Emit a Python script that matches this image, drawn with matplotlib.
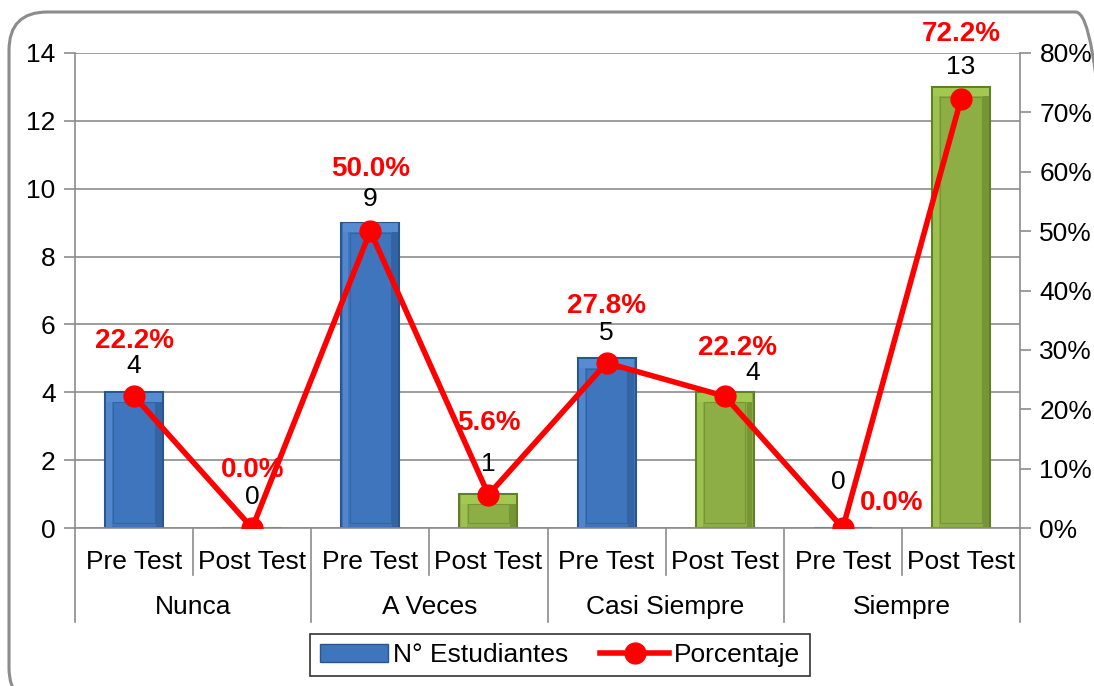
import matplotlib
matplotlib.use("Agg")
import matplotlib.pyplot as plt
from matplotlib.patches import FancyBboxPatch, Rectangle
from matplotlib.lines import Line2D
import matplotlib.transforms as mtransforms

plt.rcParams['font.family'] = ['Liberation Sans', 'DejaVu Sans']

groups = ["Nunca", "A Veces", "Casi Siempre", "Siempre"]
subgroups = ["Pre Test", "Post Test"]
estudiantes = [4, 0, 9, 1, 5, 4, 0, 13]
porcentaje = [22.2, 0.0, 50.0, 5.6, 27.8, 22.2, 0.0, 72.2]
left_ticks = [0, 2, 4, 6, 8, 10, 12, 14]
right_ticks = [0, 10, 20, 30, 40, 50, 60, 70, 80]

blue = "#3e75bc"
blue_edge = "#2a5690"
blue_light = "#5f93d8"
green = "#8cae44"
green_edge = "#617f27"
green_light = "#a8cf55"
grid = "#8c8c8c"
FS = 19

W, H = 1094, 686
fig = plt.figure(figsize=(W / 100, H / 100), dpi=100)

# rounded outer border
border = FancyBboxPatch((9 / W, -20 / H), (W + 20) / W - 9 / W, (H - 12 + 20) / H,
                        boxstyle="round,pad=0,rounding_size=0.035",
                        transform=fig.transFigure, fill=False,
                        edgecolor="#8c8c8c", linewidth=2.2, mutation_aspect=W / H)
fig.patches.append(border)

ax = fig.add_axes([75 / W, 1 - 528 / H, (1020 - 75) / W, (528 - 53) / H])
n = len(estudiantes)
x = list(range(n))
ax.set_xlim(-0.5, n - 0.5)
ax.set_ylim(0, 14)
ax.set_yticks(left_ticks)
ax.tick_params(axis='y', labelsize=FS, color=grid, length=8, width=1.2, pad=6)
ax.yaxis.grid(True, color=grid, linewidth=1.2)
ax.set_axisbelow(True)
for s in ["top", "right", "bottom"]:
    ax.spines[s].set_visible(False)
ax.spines["left"].set_color(grid)
ax.spines["left"].set_linewidth(1.2)

colors = [blue if i % 2 == 0 else green for i in range(n)]
edges = [blue_edge if i % 2 == 0 else green_edge for i in range(n)]
lights = [blue_light if i % 2 == 0 else green_light for i in range(n)]
bw = 0.49
ax.bar(x, estudiantes, width=bw, color=colors, edgecolor=edges, linewidth=1.5, zorder=2)
# bevel effect: lighter top and left edge, darker inner frame
for xi, v, lc, ec in zip(x, estudiantes, lights, edges):
    if v > 0:
        ax.add_patch(Rectangle((xi - bw / 2 + 0.01, v - 0.28), bw - 0.02, 0.26,
                               facecolor=lc, edgecolor="none", zorder=2.4, alpha=0.8))
        ax.add_patch(Rectangle((xi - bw / 2 + 0.01, 0.02), 0.05, v - 0.3,
                               facecolor=lc, edgecolor="none", zorder=2.4, alpha=0.6))
        ax.add_patch(Rectangle((xi + bw / 2 - 0.06, 0.02), 0.05, v - 0.3,
                               facecolor=ec, edgecolor="none", zorder=2.4, alpha=0.5))
        ax.add_patch(Rectangle((xi - bw / 2 + 0.07, 0.15), bw - 0.14, v - 0.45,
                               fill=False, edgecolor=ec, linewidth=0.8, zorder=2.5, alpha=0.5))

# value labels (offsets in points)
val_off = [(0, 19), (0, 22), (0, 17), (0, 22), (0, 18), (20, 14), (-3, 33), (0, 14)]
for xi, v, off in zip(x, estudiantes, val_off):
    ax.annotate(str(v), (xi, v), xytext=off, textcoords="offset points",
                ha="center", va="center", fontsize=FS, zorder=5)

# hierarchical x axis
ax.set_xticks(x)
ax.set_xticklabels([subgroups[i % 2] for i in x], fontsize=FS)
ax.tick_params(axis='x', length=0, pad=16)
trans = mtransforms.blended_transform_factory(ax.transData, ax.transAxes)
ax.plot([-0.5, n - 0.5], [0, 0], transform=trans, color=grid, lw=1.2, clip_on=False, zorder=3)
axh = (528 - 53)
for k in range(n + 1):
    xb = k - 0.5
    depth = (622 - 528) / axh if k % 2 == 0 else (575 - 528) / axh
    ax.plot([xb, xb], [0, -depth], transform=trans, color=grid, lw=1.2, clip_on=False)
for g, name in enumerate(groups):
    ax.text(2 * g + 0.5, -(607 - 528) / axh, name, transform=trans, ha="center",
            va="center", fontsize=FS)

# secondary axis
ax2 = ax.twinx()
ax2.set_ylim(0, 80)
ax2.set_yticks(right_ticks)
ax2.set_yticklabels([f"{t}%" for t in right_ticks])
ax2.tick_params(axis='y', labelsize=FS, color=grid, length=8, width=1.2, pad=6)
for s in ["top", "left", "bottom"]:
    ax2.spines[s].set_visible(False)
ax2.spines["right"].set_color(grid)
ax2.spines["right"].set_linewidth(1.2)

ax2.plot(x, porcentaje, color="#ff0000", lw=4, marker="o", markersize=15, zorder=4)

pct_off = [(0, 40), (0, 42), (0, 45), (0, 52), (0, 41), (9, 35), (35, 18), (0, 47)]
for xi, p, off in zip(x, porcentaje, pct_off):
    ax2.annotate(f"{p:.1f}%", (xi, p), xytext=(off[0], off[1]), textcoords="offset points",
                 ha="center", va="center", fontsize=20, fontweight="bold",
                 color="#ff0000", zorder=6)

# legend
handles = [Rectangle((0, 0), 1, 1, facecolor=blue, edgecolor=blue_edge),
           Line2D([0], [0], color="#ff0000", lw=4, marker="o", markersize=15)]
leg = fig.legend(handles, ["N° Estudiantes", "Porcentaje"], loc="center",
                 bbox_to_anchor=(560 / W, 1 - 655 / H), ncol=2, fontsize=FS,
                 frameon=True, fancybox=False, edgecolor="black", handlelength=2.6,
                 handletextpad=0.2, columnspacing=1.2, borderpad=0.35)
leg.get_frame().set_linewidth(1.2)

fig.savefig("out.png", dpi=100)
